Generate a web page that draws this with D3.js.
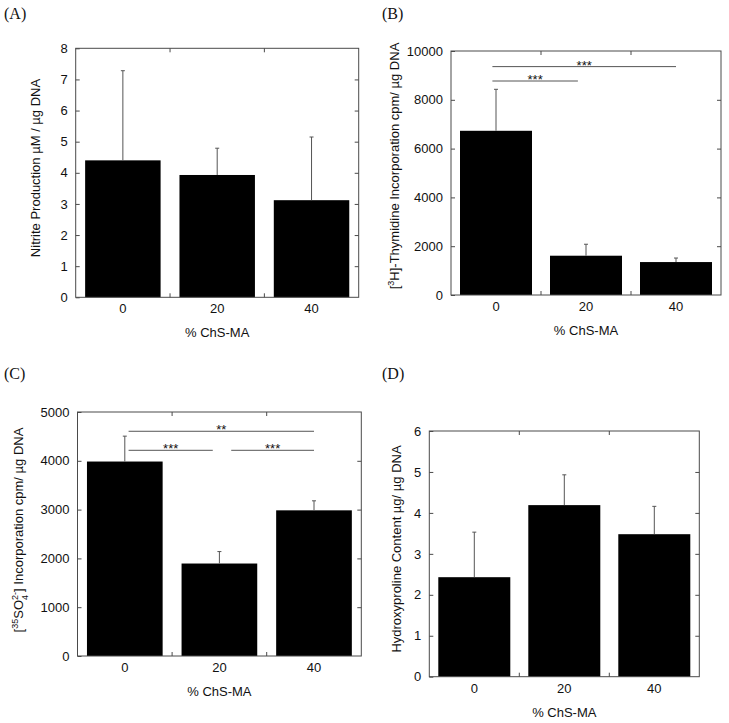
<!DOCTYPE html>
<html><head><meta charset="utf-8">
<script src="https://cdn.jsdelivr.net/npm/d3@7"></script>
<style>body{margin:0;background:#fff}svg{display:block}</style>
</head><body>
<svg id="c" width="729" height="723"></svg>
<script>
const categories = ["0", "20", "40"];
const xTitle = "% ChS-MA";

const nitriteMeans = [4.40, 3.93, 3.12];
const nitriteErrors = [2.88, 0.86, 2.03];
const nitriteTicks = [0, 1, 2, 3, 4, 5, 6, 7, 8];

const thymidineMeans = [6730, 1610, 1350];
const thymidineErrors = [1700, 470, 165];
const thymidineTicks = [0, 2000, 4000, 6000, 8000, 10000];
const thymidineSig = [
  {from: -0.04, to: 0.91, value: 8770, label: "***"},
  {from: -0.04, to: 2.0, value: 9360, label: "***"}
];

const sulfateMeans = [3985, 1895, 2985];
const sulfateErrors = [520, 245, 195];
const sulfateTicks = [0, 1000, 2000, 3000, 4000, 5000];
const sulfateSig = [
  {from: 0.04, to: 0.93, value: 4215, label: "***"},
  {from: 1.125, to: 2.0, value: 4215, label: "***"},
  {from: 0.04, to: 2.0, value: 4605, label: "**"}
];

const hypMeans = [2.43, 4.19, 3.48];
const hypErrors = [1.10, 0.74, 0.68];
const hypTicks = [0, 1, 2, 3, 4, 5, 6];

const svg = d3.select("#c");
const frameColor = "#4a4a4a";
const sans = "Liberation Sans, Arial, sans-serif";

function panel(opt) {
  const g = svg.append("g");
  const {L, R, T, B} = opt.box;
  const x = d3.scaleBand().domain(categories).range([L, R]).paddingInner(0.2).paddingOuter(0.1);
  const xi = d3.scaleLinear().domain([0, 2]).range([x(categories[0]) + x.bandwidth()/2, x(categories[2]) + x.bandwidth()/2]);
  const y = d3.scaleLinear().domain(opt.domain).range([B, T]);
  const data = categories.map((c, i) => ({c, m: opt.means[i], e: opt.errors[i]}));

  g.selectAll("rect.bar").data(data).join("rect")
    .attr("x", d => x(d.c)).attr("width", x.bandwidth())
    .attr("y", d => y(d.m)).attr("height", d => y(0) - y(d.m))
    .attr("fill", "#000");

  const eb = g.selectAll("g.eb").data(data).join("g");
  eb.append("line")
    .attr("x1", d => x(d.c) + x.bandwidth()/2).attr("x2", d => x(d.c) + x.bandwidth()/2)
    .attr("y1", d => y(d.m)).attr("y2", d => y(d.m + d.e))
    .attr("stroke", "#555").attr("stroke-width", 1);
  eb.append("line")
    .attr("x1", d => x(d.c) + x.bandwidth()/2 - 2).attr("x2", d => x(d.c) + x.bandwidth()/2 + 2)
    .attr("y1", d => y(d.m + d.e)).attr("y2", d => y(d.m + d.e))
    .attr("stroke", "#555").attr("stroke-width", 1);

  (opt.sig || []).forEach(s => {
    g.append("line").attr("x1", xi(s.from)).attr("x2", xi(s.to))
      .attr("y1", y(s.value)).attr("y2", y(s.value))
      .attr("stroke", "#555").attr("stroke-width", 1);
    g.append("text").attr("x", (xi(s.from) + xi(s.to)) / 2).attr("y", y(s.value) + 3)
      .attr("text-anchor", "middle").attr("font-family", sans).attr("font-size", 13)
      .attr("fill", "#111").text(s.label);
  });

  g.append("rect").attr("x", L).attr("y", T).attr("width", R - L).attr("height", B - T)
    .attr("fill", "none").attr("stroke", frameColor).attr("stroke-width", 1);

  const yl = d3.axisLeft(y).tickValues(opt.ticks).tickSizeInner(-4).tickSizeOuter(0).tickPadding(8).tickFormat(d3.format("d"));
  const ga = g.append("g").attr("transform", `translate(${L},0)`).call(yl);
  const yr = d3.axisRight(y).tickValues(opt.ticks.slice(1, -1)).tickSizeInner(-4).tickSizeOuter(0).tickFormat("");
  const gr = g.append("g").attr("transform", `translate(${R},0)`).call(yr);
  const xb = d3.axisBottom(x).tickSize(0).tickPadding(6);
  const gx = g.append("g").attr("transform", `translate(0,${B})`).call(xb);
  const bounds = [1, 2].map(i => x(categories[i]) - x.step() * x.paddingInner() / 2);
  bounds.forEach(bx => {
    g.append("line").attr("x1", bx).attr("x2", bx).attr("y1", B).attr("y2", B - 4).attr("stroke", frameColor);
    g.append("line").attr("x1", bx).attr("x2", bx).attr("y1", T).attr("y2", T + 4).attr("stroke", frameColor);
  });
  [ga, gr, gx].forEach(a => {
    a.select(".domain").remove();
    a.selectAll(".tick line").attr("stroke", frameColor);
    a.selectAll("text").attr("font-family", sans).attr("font-size", 13).attr("fill", "#111");
  });
  gx.selectAll("text").attr("dy", null).attr("y", 16);

  g.append("text").attr("x", (L + R) / 2).attr("y", B + 40).attr("text-anchor", "middle")
    .attr("font-family", sans).attr("font-size", 13).attr("fill", "#111").text(xTitle);

  const yt = g.append("text")
    .attr("transform", `translate(${opt.yTitleX},${opt.yTitleY}) rotate(-90)`)
    .attr("text-anchor", "middle").attr("font-family", sans).attr("font-size", 13).attr("fill", "#111");
  opt.yTitle.forEach(p => {
    const ts = yt.append("tspan").text(p.t);
    if (p.sup) ts.attr("font-size", 9).attr("baseline-shift", "super");
    if (p.sub) ts.attr("font-size", 9).attr("baseline-shift", "sub");
    if (p.dx) ts.attr("dx", p.dx);
  });

  svg.append("text").attr("x", opt.lab[0]).attr("y", opt.lab[1])
    .attr("font-family", "Liberation Serif, Times New Roman, serif").attr("font-size", 16)
    .attr("fill", "#111").text(opt.label);
}

panel({label: "(A)", lab: [4, 19], box: {L: 75.7, R: 358.7, T: 48.3, B: 297.3},
  domain: [0, 8], ticks: nitriteTicks, means: nitriteMeans, errors: nitriteErrors,
  yTitleX: 40, yTitleY: 168, yTitle: [{t: "Nitrite Production µM / µg DNA"}]});

panel({label: "(B)", lab: [382, 19], box: {L: 451, R: 721, T: 51, B: 295},
  domain: [0, 10000], ticks: thymidineTicks, means: thymidineMeans, errors: thymidineErrors, sig: thymidineSig,
  yTitleX: 399, yTitleY: 166, yTitle: [{t: "["}, {t: "3", sup: true}, {t: "H]-Thymidine Incorporation cpm/ µg DNA"}]});

panel({label: "(C)", lab: [4, 379], box: {L: 77.5, R: 361.3, T: 412, B: 656},
  domain: [0, 5000], ticks: sulfateTicks, means: sulfateMeans, errors: sulfateErrors, sig: sulfateSig,
  yTitleX: 23, yTitleY: 530, yTitle: [{t: "["}, {t: "35", sup: true}, {t: "SO"}, {t: "4", sub: true},
    {t: "2-", sup: true, dx: -5}, {t: "] Incorporation cpm/ µg DNA"}]});

panel({label: "(D)", lab: [382, 379], box: {L: 429.3, R: 699.3, T: 431, B: 676.7},
  domain: [0, 6], ticks: hypTicks, means: hypMeans, errors: hypErrors,
  yTitleX: 401, yTitleY: 549, yTitle: [{t: "Hydroxyproline Content µg/ µg DNA"}]});
</script>
</body></html>
